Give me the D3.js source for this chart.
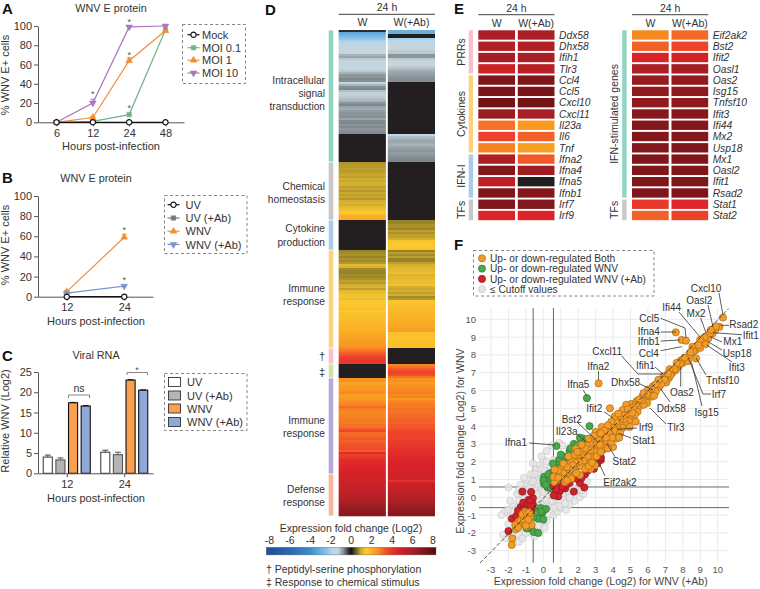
<!DOCTYPE html>
<html><head><meta charset="utf-8">
<script src="https://cdn.jsdelivr.net/npm/d3@7/dist/d3.min.js"></script>
<style>
html,body{margin:0;padding:0;background:#fff}
svg{display:block}
text{font-family:"Liberation Sans",Arial,sans-serif;fill:#333;font-size:10.5px}
.axis text{font-size:10.5px;fill:#333}
.axis path,.axis line{stroke:#555;stroke-width:1}
.letter{font-weight:bold;font-size:15px;fill:#111}
</style></head><body>
<svg id="fig" width="760" height="589"></svg>
<script>
/* ---------- Panel A ---------- */
const hoursA = [6, 12, 24, 48];
const mock = [0, 0, 0, 0];
const moi01 = [0, 1, 8, 96];
const moi1 = [0, 5, 64, 95];
const moi10 = [0, 20, 99, 100];
const errA_moi10 = [0, 4, 1, 0];
const errA_moi1 = [0, 1, 3, 0];
const percentTicks = [0, 20, 40, 60, 80, 100];
/* ---------- Panel B ---------- */
const hoursB = [12, 24];
const uvB = [0, 0];
const uvAbB = [0, 0];
const wnvB = [5, 59];
const wnvAbB = [3.5, 10.5];
const errWnvB = [1, 3];
const errWnvAbB = [0.5, 1];
/* ---------- Panel C ---------- */
const seriesC = ["UV", "UV (+Ab)", "WNV", "WNV (+Ab)"];
const rna12 = [4, 3.3, 17.4, 16.6];
const rna24 = [5.2, 4.6, 23, 20.5];
const rnaErr12 = [0.5, 0.5, 0.1, 0.1];
const rnaErr24 = [0.5, 0.6, 0.1, 0.1];
const rnaTicks = [0, 5, 10, 15, 20, 25];
/* ---------- Panel D (log2 fold change per row; null = below cutoff, black) ---------- */
const heatW = [
-0.2,-3.2,-2.9,-2.6,-2.3,-2,-1.8,-1.6,-1.5,-1.4,-1.4,-1.3,-1,-0.9,-1.2,-1.3,-1.3,-1.4,-1.4,-1.3,-1.2,-1,-0.8,-0.8,-0.7,-0.75,
-1.7,-1,-0.75,-0.7,-1.1,-1.25,-1.25,-1.2,-1.1,-1,-0.8,-0.7,-0.9,-0.95,-0.85,-0.8,-0.8,-0.75,-0.9,-0.72,-0.7,-0.78,-0.72,-0.8,-0.75,-0.72,
null,null,null,null,null,null,null,null,null,null,null,null,null,null,
0.8,0.85,0.85,0.9,0.85,0.9,0.95,0.9,1,0.95,1,1,0.9,0.95,0.85,0.95,0.9,0.95,0.85,1,1.1,1,1.2,1.3,1.4,1.5,1.9,2.1,2.1,
null,null,null,null,null,null,null,null,null,null,null,null,null,null,null,
0.7,0.75,0.8,0.7,0.8,0.72,0.85,1.2,1.1,0.75,0.7,0.7,0.75,0.72,0.8,0.9,0.85,1,1.1,0.9,1.2,1.3,1.4,1.4,1.3,1.5,1.5,1.6,1.6,1.7,1.5,1.65,1.7,1.75,1.7,1.8,1.9,1.9,2,2,2.1,2.1,2.2,2.3,2.3,2.4,2.5,2.5,2.6,
2.8,3,3.2,3.4,3.7,3.9,4,3.9,
null,null,null,null,null,null,null,
2.6,2.6,2.3,2.4,2.5,2.5,2.6,2.7,2.4,2.4,2.5,2.6,2.7,2.8,3.1,2.9,2.8,2.7,2.8,2.8,2.9,2.9,2.9,3,3,3.3,3.6,3.1,3.1,3.2,3.3,3.2,3.3,3.4,3.4,3.5,3.3,4.3,3.8,3.9,4.2,4.3,4.3,4.4,4.5,4.6,4.6,4.7,
4.7,4.8,4.8,4.9,5,5,5.1,5.2,5.3,5.4,5.5,5.6,5.7,5.9,6,6.2,6.4,6.5,6.6,6.7,6.8];
const heatWAb = [
-3,-3,-0.1,-0.1,-2,-1.7,-1.6,-1.4,-1.3,-1.3,-1.2,-1.2,-0.8,-0.8,-1.2,-1.3,-1.3,-1.3,-1.2,-1.1,-0.95,-0.9,-0.85,-0.8,-0.75,-0.75,
null,null,null,null,null,null,null,null,null,null,null,null,null,null,null,null,null,null,null,null,null,null,null,null,null,null,
-1.6,-1.1,-1,-0.9,-0.95,-1,-0.9,-0.85,-0.8,-0.85,-0.8,-0.75,-0.72,-0.7,
null,null,null,null,null,null,null,null,null,null,null,null,null,null,null,null,null,null,null,null,null,null,null,null,null,null,null,null,null,
0.7,0.7,0.8,0.8,0.7,0.9,0.8,0.9,0.9,1,1.4,1.5,1.5,1.5,1.6,
0.7,0.9,0.75,0.9,0.7,0.7,0.9,1,1.1,1.2,1.2,1.3,1.1,1.2,1.2,1.3,1.3,1.4,1,0.95,1,0.9,1,0.75,0.85,1.6,1.6,1.7,1.7,1.8,1.8,1.9,1.9,2,2,2.1,2.1,2.2,2.2,2.3,2.4,1.65,1.65,1.6,1.6,1.65,1.7,1.7,1.7,
null,null,null,null,null,null,null,null,
2.8,3,3.3,3.5,3.7,3.4,3,
2.6,2.6,2.5,2.6,2.6,2.7,2.7,2.8,2.7,2.8,2.5,2.7,2.8,2.9,2.9,3,3,3,3.1,3.1,3.2,3.2,3.2,3.3,3.3,3.4,3.6,3.6,3.7,3.7,3.7,3.8,3.9,3.9,4,4.1,4.2,4.2,4.3,4.4,4.5,4.5,4.6,4.6,4.7,4.7,4.7,4.8,
4.8,4.9,4.9,4.1,5,5,5.1,5.2,5.3,5.4,5.5,5.6,5.7,5.9,6,6.2,6.4,6.5,6.6,6.7,6.8];
const heatGroupNames = ["signal","chem","cyto","immune1","ser","chemstim","immune2","defense"];
const heatGroupRows = [66, 29, 15, 49, 8, 7, 48, 21];
const barTicks = [-8, -6, -4, -2, 0, 2, 4, 6, 8];
/* ---------- Panel E ---------- */
const genesLeft = ["Ddx58","Dhx58","Ifih1","Tlr3","Ccl4","Ccl5","Cxcl10","Cxcl11","Il23a","Il6","Tnf","Ifna2","Ifna4","Ifna5","Ifnb1","Irf7","Irf9"];
const leftW = [5.9,5.7,6.1,5,7.1,7.2,7.5,6.4,3,3.7,2.8,5.9,7,5.4,7.1,7.1,4.5];
const leftAb = [5.9,5.7,6,5.5,7.1,7.2,7.4,6,2.5,3.2,2.4,3.3,6.3,null,6.9,7,4.5];
const genesRight = ["Eif2ak2","Bst2","Ifit2","Oasl1","Oas2","Isg15","Tnfsf10","Ifit3","Ifi44","Mx2","Usp18","Mx1","Oasl2","Ifit1","Rsad2","Stat1","Stat2"];
const rightW = [2.7,3.2,4.6,5.9,6.5,6.6,6.6,6.9,7,7,7,7.1,7.1,7.1,7.1,3.9,3.2];
const rightAb = [3.1,3.6,4.8,6.1,6.6,6.7,6.7,6.9,7,7,7.1,7.1,7.1,7.1,7.1,4.4,3.7];
const leftGroups = [["PRRs",4],["Cytokines",7],["IFN-I",4],["TFs",2]];
const rightGroups = [["IFN-stimulated genes",15],["TFs",2]];
/* ---------- Panel F ---------- */
const logTicks = [-3,-2,-1,0,1,2,3,4,5,6,7,8,9,10];
const ptsGray = [[-2.1,-2.3],[-1.8,-2.2],[-1.4,-2.5],[-1.4,-2.1],[-1.2,-2.3],[-2.2,-0.8],[-2,-0.7],[-1.9,-1.1],[-1.7,-0.5],[-1.6,-1.3],[-1.5,-0.9],[-1.4,-0.5],[-1.4,-0.2],[-1.2,-0.8],[-1.2,0.1],[-1.1,0.5],[-2,0.55],[-1,0.8],[-0.9,0.3],[-0.9,1],[-0.8,0.1],[-0.7,0.7],[-0.7,1.3],[-0.6,-0.3],[-0.5,0.5],[-0.5,1],[-0.4,0.1],[-0.4,1.6],[-0.3,0.7],[-0.3,1.3],[-0.2,-0.2],[-0.2,1.8],[-0.1,0.4],[0,2.1],[0,1.2],[0.1,0.8],[0.2,2],[0.2,2.6],[0.3,1.4],[0.4,1.7],[0.5,2.9],[0.9,3.05],[1.1,2.9],[-0.9,-1.5],[-0.7,-2],[-0.5,-1.8],[-0.3,-1.6],[-0.2,-2],[0,-1.4],[0.3,-1],[0.1,-0.7],[0.4,-0.5],[0.6,-1],[0.8,-0.8],[1,-0.6],[1.3,-0.7],[1.5,-0.4],[1.8,-0.2],[2.1,0],[0.9,-0.2],[1.2,0],[1.6,0.1],[2,0.4],[2.3,0.2],[0.2,0.1],[0,-0.4],[-0.2,-0.9],[-0.6,-1.2],[-0.9,-0.7],[-1.1,-1.1],[-1.6,-1.7],[-0.3,0.2],[-0.8,-0.2],[0.2,-0.2],[0.5,0.2],[0.7,-0.5],[-2.4,-1],[-1.9,-0.2],[-1.7,-1.8],[-1.1,1.1],[-0.6,1.9],[0,0.3],[0.4,1],[0.2,-1.3],[-1.3,0.7],[1.4,0.3],[1.9,0.7],[2.2,0.7],[-0.1,1.6],[0.6,2.1],[-1.5,0.2],[-0.3,1],[0.1,-1.7],[-0.5,-2.2],[2.5,0.9],[1,0.5],[-2.3,-2.1],[-1,-2],[-0.1,2.3],[-0.5,1.3],[-1.5,-1.5],[-1.3,-1.7],[-1,-1.4],[-0.7,-0.7],[-0.4,-0.5],[-1,-0.2],[-0.6,0.9],[-0.2,0.9],[0.1,1.5],[0.2,-0.5],[0.5,-0.2],[0.9,-0.5],[1.1,0.2],[1.7,0.5],[0,0.7],[-0.3,-0.4],[-0.8,0.5],[-1.4,0.4],[-1.1,-0.1],[-1.7,-0.8],[-2,-1.5],[1.5,0],[2.2,0.4],[0.3,0.7],[-0.15,-1.1],[-0.8,-1.8],[0.6,-0.6],[1.25,-0.35]];
const ptsGreen = [[0.75,2.88],[2.65,4],[2.5,5.57],[2.3,3.3],[2.45,3.1],[1.75,3],[1.5,2.6],[1.7,2.3],[1.35,2.2],[1.15,2.3],[0.9,2.1],[0.85,1.8],[1.05,1.7],[0.8,1.6],[1.2,1.9],[0.4,1.35],[0.3,1.05],[0.05,1.15],[0.15,0.95],[0.4,0.8],[0.05,0.75],[0.25,0.55],[0.45,0.5],[0.3,1.3],[0.5,1.1],[1.95,2.95],[2.6,3.1],[-0.35,-0.75],[-0.2,-0.95],[-0.4,-1],[-0.05,-0.85],[0.05,-0.7],[-0.15,-0.6],[-0.3,-1.2],[0,-1.25],[-0.55,-1.1],[-0.7,-1.75],[-0.95,-1.75],[-0.55,-1.95],[-0.3,-2],[0.15,-0.65],[1,2.4],[1.55,2.75],[2.1,3.35],[2.25,2.9],[0.6,1.5],[0.55,1.9],[0,0.95],[0.15,0.7],[0.65,1.3],[-0.15,-0.8],[-0.45,-0.85]];
const ptsRed = [[-2,-1.9],[-1.8,-1.2],[-1.55,-1.05],[-1.3,-0.55],[-1.2,-0.7],[-1.05,-0.45],[-0.85,-0.55],[-0.7,-0.75],[-0.6,-0.4],[-0.6,-0.05],[-0.85,-0.15],[-0.7,0.3],[-1.2,0.32],[-1,-0.95],[-1.3,-0.95],[0.6,0.6],[0.7,0.2],[0.95,0.35],[0.85,0.05],[0.6,0.1],[1.25,0.5],[1.75,0.32],[2.35,0.55],[2.1,0.8],[2.4,1.3],[2.55,1.5],[2.7,1.8],[3.3,2.1],[2.8,2.2],[3.2,2.5],[3,2.9],[3.1,3.2],[1,1],[0.9,0.7],[1.5,0.8],[1.9,1.05],[3.3,2.25],[1.3,0.7],[0.75,0.45],[1.1,0.6],[2.9,1.6],[2.2,1.1],[3.1,1.9],[2.95,2.4],[-1.15,-0.3],[-1.45,-0.75],[-0.9,-0.4],[-0.75,-0.25],[-0.7,-0.5]];
const ptsOrange = [[10.3,10.1],[10.1,9.57],[9.85,9.4],[9.7,9.2],[9.46,8.93],[9.1,8.75],[9.3,8.6],[8.75,8.27],[9,8.4],[8.75,7.8],[8.2,7.8],[8.4,8.0],[8,7.55],[7.75,7.35],[7.9,7.7],[7.4,7],[7.6,7.15],[7.2,6.7],[6.9,6.8],[7.05,6.45],[6.65,6.2],[6.8,6.6],[6.3,6.25],[6.45,5.95],[6.1,5.9],[6.2,5.65],[5.85,5.6],[5.95,5.3],[5.7,5.7],[5.5,5.1],[5.6,5.4],[5.2,4.9],[5.4,4.8],[5.05,5.25],[4.75,5.2],[4.55,4.9],[5.05,4.55],[5.3,4.25],[4.9,4.3],[4.5,4.5],[4.7,4.1],[4.35,4.15],[4.55,3.9],[4.95,3.95],[4.25,3.9],[4,3.95],[3.63,3.67],[3.35,3.95],[3,3.67],[3.92,3.58],[4.2,3.3],[4,2.83],[3.44,2.68],[3.06,2.73],[3.75,3.25],[3.3,3.3],[3.6,3],[3.9,3.1],[3.2,3.55],[2.9,3.2],[2.75,2.95],[3.05,3],[2.6,3.3],[2.5,2.9],[1.87,2.73],[2.2,2.64],[2.58,2.55],[2.87,2.36],[2,2.27],[2.4,2.2],[1.53,1.89],[1.24,1.52],[0.76,0.95],[1.24,0.86],[1.63,1.24],[1.91,1.7],[2.3,1.8],[2.96,1.8],[2.1,1.25],[1.4,1.15],[0.95,1.3],[1.75,1.5],[2.55,2],[2.7,1.6],[1.65,2.1],[1.2,1.15],[0.65,0.85],[0.7,1.3],[1,1.6],[0.6,1.15],[2.15,2.05],[2.35,2.4],[7.6,9.27],[7.93,8.84],[8.18,8.8],[3.17,6.4],[3.82,5],[-1.78,-2.32],[-1.81,-2.68],[-1.58,-1.8],[-1.43,-1.37],[-1.05,-0.8],[-1.24,-1.18],[-0.96,-1.37],[-0.67,-1.56],[-1.33,-1.56],[-0.9,-1],[-0.75,-1.1],[-1.15,-1.45],[9.55,9.2],[8.55,8.45],[7.3,6.85],[6.55,6.4],[6.05,5.75],[5.75,5.2],[5.25,4.65],[4.65,4.4],[4.15,3.75],[3.45,3.4],[3.75,3.6],[4.4,3.6],[4.8,4.7],[5.35,5.4],[6.35,5.7],[9.9,9.6],[9.6,9.4],[9.25,9],[9,8.85],[8.9,8.55],[8.6,8.2],[8.45,8.15],[8.3,7.65],[8.1,7.85],[7.85,7.5],[7.65,7.55],[7.5,7.2],[7.25,7.2],[7.15,6.95],[6.95,6.6],[6.75,6.35],[6.6,6.6],[6.45,6.35],[6.2,6.1],[6,6.05],[5.95,5.8],[5.75,5.85],[5.65,5.45],[5.5,5.5],[5.3,5.2],[5.15,5.05],[5.1,4.75],[4.85,4.95],[4.6,4.6],[4.4,4.4],[4.2,4.25],[4.1,4.55],[4.3,4.7],[3.9,4.25],[3.7,4.05],[3.5,3.75],[3.3,3.6],[3.15,3.2],[3.95,3.35],[4.35,3.35],[3.55,2.8],[3.7,2.75],[3.25,2.95],[2.95,2.55],[2.7,2.65],[2.75,2.25],[2.55,2.3],[2.3,2.05],[2.15,1.75],[2.05,2],[1.85,1.95],[1.7,1.8],[1.5,1.55],[1.35,1.7],[1.15,1.35],[1,1.1],[0.85,1.1],[1.9,1.35],[2.4,1.6],[2.6,1.75],[2.8,1.95],[3.05,2.3],[3.3,2.55],[1.6,1.05],[1.35,0.95],[1.8,2.4],[2.1,2.55],[2.4,2.75],[1.45,2.3],[1.15,1.9],[0.85,1.5],[0.65,1.55],[1.95,2.55],[3.6,3.35],[2.2,2.95],[2.9,3.45],[-1.6,-1.55],[-1.45,-1.7],[-1.3,-1.3],[-1.1,-1.25],[-1.2,-0.95],[-0.95,-0.9],[-0.8,-0.85],[-0.85,-1.25],[-1,-1.6]];
/* ---------- shared colours ---------- */
const cOrange = "#f28e3a", cGreen = "#6fb387", cPurple = "#a877bd", cBlue = "#7f94cc", cBlack = "#111";

const svg = d3.select("#fig");
function txt(x,y,s,o={}){
  const t = svg.append("text").attr("x",x).attr("y",y).text(s)
    .attr("text-anchor",o.anchor||"start");
  if(o.size) t.style("font-size",o.size+"px");
  if(o.fill) t.style("fill",o.fill);
  if(o.italic) t.style("font-style","italic");
  if(o.cls) t.attr("class",o.cls);
  if(o.rotate) t.attr("transform",`rotate(${o.rotate} ${x} ${y})`);
  return t;
}
function dashedBox(x,y,w,h){
  svg.append("rect").attr("x",x).attr("y",y).attr("width",w).attr("height",h)
    .attr("fill","none").attr("stroke","#777").attr("stroke-width",0.9).attr("stroke-dasharray","3,2.5");
}
const symCircle=d3.symbolCircle, symSquare=d3.symbolSquare, symUp=d3.symbolTriangle;
function marker(x,y,spec){
  const g=svg.append("path")
    .attr("d",d3.symbol().type(spec.type).size(spec.size)())
    .attr("transform",`translate(${x},${y})${spec.flip?" rotate(180)":""}`)
    .attr("fill",spec.fill).attr("stroke",spec.stroke||spec.fill).attr("stroke-width",spec.sw||0.5);
  return g;
}
function lineSeries(xs,sc,yScale,vals,spec){
  const line=d3.line().x((d,i)=>sc(xs[i])).y(d=>yScale(d));
  svg.append("path").datum(vals).attr("d",line).attr("fill","none").attr("stroke",spec.fill==="#fff"?spec.stroke:spec.fill).attr("stroke-width",spec.lw||1.2);
  if(spec.err) spec.err.forEach((e,i)=>{ if(!e) return;
    const x=sc(xs[i]),y=yScale(vals[i]);
    svg.append("path").attr("d",`M${x},${y}V${yScale(vals[i]+e)}M${x-2.5},${yScale(vals[i]+e)}H${x+2.5}`).attr("stroke",spec.fill).attr("fill","none").attr("stroke-width",0.9);
  });
  vals.forEach((v,i)=>marker(sc(xs[i]),yScale(v),spec));
}
function lineLegend(x,textX,rows,labels,specs,half){
  labels.forEach((l,i)=>{
    const c=specs[i].fill==="#fff"?specs[i].stroke:specs[i].fill;
    svg.append("line").attr("x1",x-half).attr("x2",x+half).attr("y1",rows[i]).attr("y2",rows[i]).attr("stroke",c).attr("stroke-width",1.2);
    marker(x,rows[i],specs[i]);
    txt(textX,rows[i]+4,l,{size:11});
  });
}
function yAxis(x,scale,ticks){
  const g=svg.append("g").attr("class","axis").attr("transform",`translate(${x},0)`)
    .call(d3.axisLeft(scale).tickValues(ticks).tickSize(4).tickSizeOuter(0).tickPadding(2));
  g.selectAll("text").style("font-size","11px");
  return g;
}
function xAxis(y,scale){
  const g=svg.append("g").attr("class","axis").attr("transform",`translate(0,${y})`)
    .call(d3.axisBottom(scale).tickSize(4).tickSizeOuter(0).tickPadding(3));
  g.selectAll("text").style("font-size","11px");
  return g;
}

const specMock={type:symCircle,size:22,fill:"#fff",stroke:cBlack,sw:1.2};
const specSq=c=>({type:symSquare,size:20,fill:c});
const specUp=c=>({type:symUp,size:20,fill:c});
const specDown=c=>({type:symUp,size:20,fill:c,flip:true});

/* ---------- A ---------- */
txt(2,14,"A",{cls:"letter"});
txt(111,12,"WNV E protein",{anchor:"middle",size:10.8});
const xA=d3.scalePoint().domain(hoursA).range([38,184]).padding(0.51);
const yA=d3.scaleLinear().domain([0,100]).range([122.3,26]);
yAxis(38,yA,percentTicks); xAxis(122.3,xA);
lineSeries(hoursA,xA,yA,moi01,specSq(cGreen));
lineSeries(hoursA,xA,yA,moi1,{...specUp(cOrange),err:errA_moi1});
lineSeries(hoursA,xA,yA,moi10,{...specDown(cPurple),err:errA_moi10});
lineSeries(hoursA,xA,yA,mock,{...specMock,lw:1.3});
txt(xA(12),97,"*",{anchor:"middle",size:9,fill:"#555"});
txt(xA(24),111,"*",{anchor:"middle",size:9,fill:"#555"});
txt(xA(24),58,"*",{anchor:"middle",size:9,fill:"#555"});
txt(xA(24),25,"*",{anchor:"middle",size:9,fill:"#555"});
txt(111,150,"Hours post-infection",{anchor:"middle",size:11});
txt(9,75,"% WNV E+ cells",{anchor:"middle",size:11,rotate:-90});
dashedBox(182.5,24.5,63,59);
lineLegend(193.5,202,[34.7,47.7,60.2,73],["Mock","MOI 0.1","MOI 1","MOI 10"],[specMock,specSq(cGreen),specUp(cOrange),specDown(cPurple)],6);

/* ---------- B ---------- */
txt(2,183,"B",{cls:"letter"});
txt(96,182,"WNV E protein",{anchor:"middle",size:10.8});
const xB=d3.scalePoint().domain(hoursB).range([38,153]).padding(0.5);
const yB=d3.scaleLinear().domain([0,100]).range([296.7,196]);
yAxis(38,yB,percentTicks); xAxis(296.7,xB);
lineSeries(hoursB,xB,yB,uvAbB,specSq("#777"));
lineSeries(hoursB,xB,yB,wnvB,{...specUp(cOrange),err:errWnvB});
lineSeries(hoursB,xB,yB,wnvAbB,{...specDown(cBlue),err:errWnvAbB});
lineSeries(hoursB,xB,yB,uvB,{...specMock,lw:1.3});
txt(xB(24),233,"*",{anchor:"middle",size:9,fill:"#555"});
txt(xB(24),283,"*",{anchor:"middle",size:9,fill:"#555"});
txt(96,325,"Hours post-infection",{anchor:"middle",size:11});
txt(9,245,"% WNV E+ cells",{anchor:"middle",size:11,rotate:-90});
dashedBox(164.5,195.5,82.5,58);
lineLegend(173.5,185.5,[204.7,218,231.2,244.5],seriesC,[specMock,specSq("#777"),specUp(cOrange),specDown(cBlue)],6);

/* ---------- C ---------- */
txt(2,361,"C",{cls:"letter"});
txt(96,359,"Viral RNA",{anchor:"middle",size:10.8});
const xC=d3.scalePoint().domain(hoursB).range([38,153]).padding(0.5);
const innerC=d3.scaleBand().domain(seriesC).range([-23.5,23.5]).paddingInner(0.28);
const yC=d3.scaleLinear().domain([0,25]).range([473.3,372]);
const fillC=["#fff","#b5b5b5","#f8a050","#8fa8d8"];
const strokeC=["#444","#555","#111","#111"];
hoursB.forEach((h,gi)=>{
  const vals=gi?rna24:rna12, errs=gi?rnaErr24:rnaErr12;
  seriesC.forEach((s,i)=>{
    const x=xC(h)+innerC(s), w=innerC.bandwidth();
    svg.append("path").attr("d",`M${x+w/2},${yC(vals[i])}V${yC(vals[i]+errs[i])}M${x+w/2-3},${yC(vals[i]+errs[i])}H${x+w/2+3}`).attr("stroke",strokeC[i]).attr("stroke-width",1);
    svg.append("rect").attr("x",x).attr("y",yC(vals[i])).attr("width",w).attr("height",yC(0)-yC(vals[i]))
      .attr("fill",fillC[i]).attr("stroke",strokeC[i]).attr("stroke-width",1.1);
  });
});
yAxis(38,yC,rnaTicks); xAxis(473.3,xC);
svg.append("path").attr("d","M68.5,398V395H89.5V398").attr("fill","none").attr("stroke","#777").attr("stroke-width",0.9);
txt(79,392,"ns",{anchor:"middle",size:10.5});
svg.append("path").attr("d","M127,375V372.5H147.5V375").attr("fill","none").attr("stroke","#777").attr("stroke-width",0.9);
txt(137,373,"*",{anchor:"middle",size:9,fill:"#555"});
txt(96,502,"Hours post-infection",{anchor:"middle",size:11});
txt(9,421,"Relative WNV (Log2)",{anchor:"middle",size:11,rotate:-90});
dashedBox(164.5,373.5,82.5,57);
[382,395.5,408.5,422].forEach((y,i)=>{
  svg.append("rect").attr("x",168.5).attr("y",y-4.5).attr("width",12).attr("height",9).attr("fill",fillC[i]).attr("stroke","#333").attr("stroke-width",0.9);
  txt(187,y+4,seriesC[i],{size:11});
});

/* ---------- colour scale shared by D and E ---------- */
const heatColor=d3.scaleLinear()
  .domain([-8,-6,-4,-2.6,-1.8,-1.3,-1,-0.7,-0.3,0,0.3,0.7,1,1.5,2.5,3.5,4.5,6,8])
  .range(["#1f4f9a","#2a68b0","#3d8dcb","#7dbde8","#b6d7ec","#c6d5dc","#a6b3b9","#7e888c","#3a3a3a","#111","#4a4020","#988428","#d4ae30","#fbc92f","#f89a1f","#f0492a","#dc2329","#a81f25","#5c0f12"])
  .interpolate(d3.interpolateRgb).clamp(true);
const cNull="#231f20";

/* ---------- D ---------- */
txt(265,15,"D",{cls:"letter"});
txt(387,11,"24 h",{anchor:"middle",size:10.5});
svg.append("line").attr("x1",338.7).attr("x2",435).attr("y1",14.3).attr("y2",14.3).attr("stroke","#666").attr("stroke-width",1.2);
txt(362.5,26,"W",{anchor:"middle",size:10.5});
txt(411.5,26,"W(+Ab)",{anchor:"middle",size:10.5});
const rowD=d3.scaleBand().domain(d3.range(heatW.length)).range([30,516]);
const colD=d3.scaleBand().domain(["W","Ab"]).range([338.7,435]).paddingInner(0.04);
[["W",heatW],["Ab",heatWAb]].forEach(([k,arr])=>{
  svg.append("g").selectAll("rect").data(arr).join("rect")
    .attr("x",colD(k)).attr("width",colD.bandwidth())
    .attr("y",(d,i)=>rowD(i)).attr("height",rowD.bandwidth()+0.3)
    .attr("fill",d=>d===null?cNull:heatColor(d));
});
const sideD=["#8fd6c0","#c8c8c8","#a9cce8","#fad27e","#f7c0d0","#cfe3a4","#b5a9da","#f7b59a"];
let acc=0;
heatGroupRows.forEach((n,i)=>{
  svg.append("rect").attr("x",328.7).attr("width",4.6)
    .attr("y",rowD(acc)+0.4).attr("height",n*rowD.bandwidth()-0.8).attr("fill",sideD[i]);
  acc+=n;
});
[[80,"Intracellular"],[93.3,"signal"],[106.5,"transduction"],[186,"Chemical"],[199,"homeostasis"],[228.7,"Cytokine"],[242,"production"],[288.7,"Immune"],[301.7,"response"],[420,"Immune"],[433,"response"],[489,"Defense"],[502,"response"]]
 .forEach(([y,s])=>txt(325,y+3.7,s,{anchor:"end",size:10.2}));
txt(325,359.5,"†",{anchor:"end",size:11});
txt(325,376,"‡",{anchor:"end",size:11});
/* colour bar */
txt(351,532,"Expression fold change (Log2)",{anchor:"middle",size:10.5});
const barX=d3.scaleLinear().domain([-8,8]).range([269.5,433]);
const gradId="hb";
const grad=svg.append("defs").append("linearGradient").attr("id",gradId);
heatColor.domain().forEach((d)=>{
  grad.append("stop").attr("offset",((d+8.3)/16.6*100)+"%").attr("stop-color",heatColor(d));
});
svg.append("rect").attr("x",266.3).attr("y",547.3).attr("width",169.7).attr("height",7.6).attr("fill",`url(#${gradId})`).attr("stroke","#555").attr("stroke-width",0.4);
barTicks.forEach(t=>txt(barX(t),543.5,t,{anchor:"middle",size:10.5}));
txt(266,573,"† Peptidyl-serine phosphorylation",{size:10.5});
txt(266,586,"‡ Response to chemical stimulus",{size:10.5});

/* ---------- E ---------- */
txt(454,14,"E",{cls:"letter"});
function smallHeat(x0,x1,barX,genes,w,ab,groups,labelX,gc){
  const c=d3.scaleBand().domain(["W","Ab"]).range([x0,x1]).paddingInner(0.07);
  const r=d3.scaleBand().domain(genes).range([30.3,220.2]).paddingInner(0.17).paddingOuter(0);
  const mid=(x0+x1)/2;
  txt(mid,11.5,"24 h",{anchor:"middle",size:10.5});
  svg.append("line").attr("x1",x0).attr("x2",x1).attr("y1",14.6).attr("y2",14.6).attr("stroke","#666").attr("stroke-width",1.2);
  txt(c("W")+c.bandwidth()/2,26.5,"W",{anchor:"middle",size:10.5});
  txt(c("Ab")+c.bandwidth()/2,26.5,"W(+Ab)",{anchor:"middle",size:10.5});
  genes.forEach((g,i)=>{
    [["W",w],["Ab",ab]].forEach(([k,a])=>{
      svg.append("rect").attr("x",c(k)).attr("width",c.bandwidth()).attr("y",r(g)).attr("height",r.bandwidth())
        .attr("fill",a[i]===null?cNull:heatColor(a[i]));
    });
    txt(x1+4.5,r(g)+r.bandwidth()/2+3.7,g,{size:10.3,italic:true});
  });
  let k=0;
  groups.forEach(([name,n],i)=>{
    const top=r(genes[k]), bot=r(genes[k+n-1])+r.bandwidth();
    svg.append("rect").attr("x",barX).attr("width",4.4).attr("y",top).attr("height",bot-top).attr("fill",gc[i]);
    txt(labelX,(top+bot)/2,name,{anchor:"middle",size:10.5,rotate:-90});
    k+=n;
  });
}
smallHeat(478.3,554.5,468.7,genesLeft,leftW,leftAb,leftGroups,465,["#f7c0d0","#fad27e","#a9cce8","#c8c8c8"]);
smallHeat(632,708.2,622.2,genesRight,rightW,rightAb,rightGroups,618.5,["#8fd6c0","#c8c8c8"]);

/* ---------- F ---------- */
txt(454,250,"F",{cls:"letter"});
dashedBox(473.5,250.5,180.5,45.5);
const colsF={o:["#f59c27","#a56a1c"],g:["#4aa84a","#2c7a33"],r:["#d1222b","#8a1b20"],n:["#e6e6e6","#c4c4c4"]};
[["o","Up- or down-regulated Both"],["g","Up- or down-regulated WNV"],["r","Up- or down-regulated WNV (+Ab)"],["n","≤ Cutoff values"]].forEach(([k,s],i)=>{
  const y=258.3+i*10.3;
  svg.append("circle").attr("cx",482).attr("cy",y).attr("r",3.6).attr("fill",colsF[k][0]).attr("stroke",colsF[k][1]).attr("stroke-width",0.7);
  txt(490,y+3.7,s,{size:10.2});
});
const xF=d3.scaleLinear().domain([-3,10]).range([491,717.7]);
const yF=d3.scaleLinear().domain([-3,10]).range([550.7,319.3]);
const fTop=308,fBot=562.7,fLeft=479,fRight=729;
const gridF=svg.append("g");
logTicks.forEach(t=>{
  gridF.append("line").attr("x1",xF(t)).attr("x2",xF(t)).attr("y1",fTop).attr("y2",fBot).attr("stroke","#eaeaea");
  gridF.append("line").attr("y1",yF(t)).attr("y2",yF(t)).attr("x1",fLeft).attr("x2",fRight).attr("stroke","#eaeaea");
  txt(xF(t),573,t,{anchor:"middle",size:9.5,fill:"#555"});
  txt(476,yF(t)+3.4,t,{anchor:"end",size:9.5,fill:"#555"});
});
const cutoff=0.58;
[-cutoff,cutoff].forEach(c=>{
  gridF.append("line").attr("x1",xF(c)).attr("x2",xF(c)).attr("y1",fTop).attr("y2",fBot).attr("stroke","#666");
  gridF.append("line").attr("y1",yF(c)).attr("y2",yF(c)).attr("x1",fLeft).attr("x2",fRight).attr("stroke","#666");
});
function dots(pts,k,op){
  svg.append("g").selectAll("circle").data(pts).join("circle")
    .attr("cx",d=>xF(d[0])).attr("cy",d=>yF(d[1])).attr("r",3.6)
    .attr("fill",colsF[k][0]).attr("stroke",colsF[k][1]).attr("stroke-width",0.7).attr("opacity",op||1);
}
dots(ptsGray,"n",0.85);
dots(ptsGreen,"g");
dots(ptsRed,"r");
dots(ptsOrange,"o");
svg.append("line").attr("x1",xF(-3.63)).attr("y1",yF(-3.69)).attr("x2",xF(10.63)).attr("y2",yF(10.6))
  .attr("stroke","#222").attr("stroke-width",0.8).attr("stroke-dasharray","4,2");
txt(600.7,585,"Expression fold change (Log2) for WNV (+Ab)",{anchor:"middle",size:10.5,fill:"#444"});
txt(464,441,"Expression fold change (Log2) for WNV",{anchor:"middle",size:10.5,rotate:-90,fill:"#444"});

/* callouts: label, text x, text y (centre), anchor, leader path */
const callouts=[
["Cxcl10",706,288.7,"middle",[[719,293],[723,315]]],
["Oasl2",699.3,300,"middle",[[708,305],[713,326.7]]],
["Mx2",696,313,"middle",[[700.7,318],[706,333]]],
["Ifi44",671.7,307,"middle",[[679,312],[700,337]]],
["Rsad2",729.3,324.5,"start",[[720.7,325.3],[729,325.3]]],
["Ifit1",742.7,335.2,"start",[[713,332.7],[742,334.7]]],
["Mx1",723.3,341.5,"start",[[710,336.7],[722,342]]],
["Usp18",722.7,352.8,"start",[[708,341.7],[722,350]]],
["Ifit3",728.7,367.3,"start",[[706.7,345],[732,362]]],
["Tnfsf10",706,380.7,"start",[[696,358],[706,375]]],
["Irf7",711.7,394,"start",[[688.3,358],[703,394],[711,394]]],
["Isg15",706.7,412.7,"middle",[[691.7,363],[702,406]]],
["Oas2",670,392.3,"start",[[680.7,366.7],[680.7,386.7]]],
["Ddx58",671.3,408.3,"middle",[[660.7,389],[670,402]]],
["Tlr3",667.3,427.7,"start",[[650,408],[666,424]]],
["Dhx58",640,382.3,"end",[[640,384],[653,390]]],
["Ifih1",636,365.7,"start",[[655,367],[663,374]]],
["Cxcl11",622,351,"end",[[621.7,356],[638,374],[663,374]]],
["Ccl4",638.7,352.8,"start",[[660.7,350.7],[681.7,346.7]]],
["Ifnb1",637.7,341.7,"start",[[660.7,341],[680,340]]],
["Ifna4",637.7,331.2,"start",[[660.7,332],[676,332]]],
["Ccl5",639.3,318,"start",[[660.7,318.3],[685,328],[686,338]]],
["Ifna2",598.3,366.7,"middle",[[598.5,371],[598.5,380]]],
["Ifna5",578.3,384.3,"middle",[[583.3,390],[586.7,396]]],
["Ifit2",594.3,408.7,"middle",[[604,411.7],[613,418]]],
["Bst2",571.7,419.3,"middle",[[578,423],[598,441.7]]],
["Il23a",566.7,431.3,"middle",[[578,435],[586,441.7]]],
["Ifna1",527,442.7,"end",[[529.3,443],[555,445]]],
["Irf9",638.7,427.7,"start",[[616.7,429.3],[637,428]]],
["Stat1",632.3,440,"start",[[618.3,433.3],[631,438]]],
["Stat2",624.3,461.3,"middle",[[606.7,443.3],[615,456.7]]],
["Eif2ak2",620,482,"middle",[[598.3,461.7],[605,476]]]
];
callouts.forEach(([s,x,y,a,p])=>{
  svg.append("path").attr("d",d3.line()(p)).attr("fill","none").attr("stroke","#333").attr("stroke-width",0.8);
  txt(x,y+3.7,s,{anchor:a,size:10,fill:"#333"});
});
</script>
</body></html>
